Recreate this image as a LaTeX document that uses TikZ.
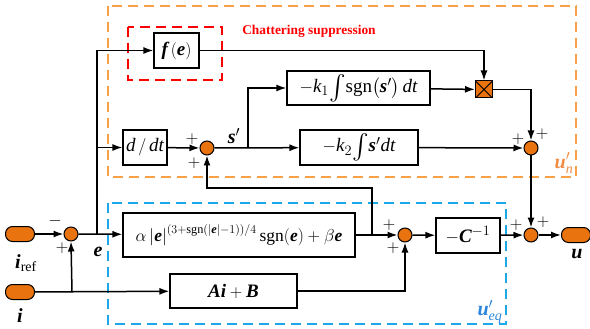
\documentclass[tikz,border=0pt]{standalone}
\usepackage{amsmath}
\usepackage{fontspec}
\setmainfont{Liberation Serif}
\usetikzlibrary{arrows.meta,calc}
\definecolor{sorange}{HTML}{E8730F}
\definecolor{boxorange}{HTML}{F7A048}
\definecolor{boxblue}{HTML}{1BA8EA}
\definecolor{lblblue}{HTML}{2A86DA}
\definecolor{lblorange}{HTML}{F28C44}
\newcommand{\vb}[1]{\text{\bfseries\itshape #1}}
\newcommand{\vi}[1]{\text{\itshape #1}}
\newcommand{\vr}[1]{\text{#1}}
\newcommand{\bigintg}{\mathop{\vcenter{\hbox{\fontsize{26}{26}\selectfont$\int$}}}}
\begin{document}
\begin{tikzpicture}[x=1pt,y=-1pt,
  blk/.style={draw,line width=1.2pt,fill=white,inner sep=0pt,font=\fontsize{19}{21}\selectfont},
  sumc/.style={circle,draw,fill=sorange,minimum size=14pt,inner sep=0pt,line width=1pt},
  term/.style={rounded corners=7pt,draw,fill=sorange,minimum width=29pt,minimum height=15pt,inner sep=0pt,line width=1pt},
  ar/.style={-{Latex[length=10pt,width=7pt]},line width=1.5pt},
  sg/.style={font=\fontsize{17}{17}\selectfont,inner sep=0pt},
  lbl/.style={font=\fontsize{20}{22}\selectfont,inner sep=0pt},
  dsh/.style={line width=1.8pt,dash pattern=on 10pt off 6pt}]
\useasboundingbox (0,0) rectangle (590,329);
% dashed frames
\draw[dsh,boxorange] (108,6) rectangle (576,177);
\draw[dsh,boxblue] (108,203) rectangle (506,324);
\draw[dsh,red] (128,27) rectangle (222,80);
\node[text=red,font=\fontsize{13.4}{15}\bfseries\selectfont,inner sep=0pt] (chat) at (309,31) {Chattering suppression};
\node[lbl,text=lblorange] (un) at (564,163) {$\vb{u}'_{\vi{n}}$};
\node[lbl,text=lblblue] (ueq) at (490,312) {$\vb{u}'_{\vi{eq}}$};
% terminals
\node[term] (iref) at (20,234) {};
\node[term] (iin) at (20,292) {};
\node[term] (uout) at (576,235) {};
\node[lbl] (irefl) at (26,263) {$\vb{i}_{\vr{ref}}$};
\node[lbl] (iinl) at (20,316) {$\vb{i}$};
\node[lbl] (uoutl) at (577,254) {$\vb{u}$};
% sums
\node[sumc] (s1) at (71,234) {};
\node[sumc] (s2) at (405,235) {};
\node[sumc] (s3) at (531,235) {};
\node[sumc] (s4) at (207,148) {};
\node[sumc] (s5) at (531,148) {};
% blocks
\node[blk,minimum width=232pt,minimum height=44pt,font=\fontsize{17.5}{19}\selectfont] (alpha) at (239,235)
  {$\alpha\left|\vb{e}\right|^{\left(3+\vr{sgn}\left(\left|\vb{e}\right|-1\right)\right)/4}\vr{sgn}\!\left(\vb{e}\right)+\beta\vb{e}$};
\node[blk,minimum width=64pt,minimum height=35pt] (cinv) at (468,235.5) {$-\vb{C}^{-1}$};
\node[blk,minimum width=127pt,minimum height=34pt] (aib) at (233.5,291) {$\vb{Ai}+\vb{B}$};
\node[blk,minimum width=44pt,minimum height=35pt] (ddt) at (145,147.5) {$\vi{d}\,/\,\vi{dt}$};
\node[blk,minimum width=143pt,minimum height=34pt] (k1) at (358.5,88) {$-\vi{k}_1\!\bigintg\!\vr{sgn}\!\left(\vb{s}'\right)\vi{dt}$};
\node[blk,minimum width=118pt,minimum height=35pt] (k2) at (359,147.5) {$-\vi{k}_2\!\bigintg\!\vb{s}'\vi{dt}$};
\node[blk,minimum width=45pt,minimum height=35pt] (fe) at (176.5,50.5) {$\vb{f}\left(\vb{e}\right)$};
\node[draw,fill=sorange,minimum size=17pt,inner sep=0pt,line width=1pt,
  path picture={\draw[line width=1pt] (path picture bounding box.north west)--(path picture bounding box.south east)
  (path picture bounding box.north east)--(path picture bounding box.south west);}] (mult) at (484,89.5) {};
% labels
\node[lbl] (el) at (98,252) {$\vb{e}$};
\node[lbl] (sl) at (234,136) {$\vb{s}'$};
% signs
\node[sg] at (55,221) {$-$};
\node[sg] at (62,248) {$+$};
\node[sg] at (192,139) {$+$};
\node[sg] at (194,163) {$+$};
\node[sg] at (518,139) {$+$};
\node[sg] at (542,134) {$+$};
\node[sg] at (389,225) {$+$};
\node[sg] at (393,248) {$+$};
\node[sg] at (516,225) {$+$};
\node[sg] at (543,222) {$+$};
% coordinates
\coordinate (ej) at (97,234);
\coordinate (sj) at (248,148);
\coordinate (tap) at (372,235);
\coordinate (fb) at (372,188);
\coordinate (ij) at (72,292);
% connectors
\draw[ar] (iref) -- (s1);
\draw[ar] (iin) -- (aib);
\draw[ar] (ij) -- (s1.south);
\draw[ar] (s1) -- (alpha);
\draw[ar] (ej) |- (fe);
\draw[ar] (ej |- ddt) -- (ddt);
\draw[ar] (ddt) -- (s4);
\draw[ar] (s4) -- (k2);
\draw[ar] (sj) |- (k1);
\draw[ar] (fe) -| (mult);
\draw[ar] (k1) -- (mult);
\draw[ar] (mult) -| (s5);
\draw[ar] (k2) -- (s5);
\draw[ar] (s5) -- (s3);
\draw[ar] (alpha) -- (s2);
\draw[ar] (tap) -- (fb) -| (s4);
\draw[ar] (aib) -| (s2);
\draw[ar] (s2) -- (cinv);
\draw[ar] (cinv) -- (s3);
\draw[ar] (s3) -- (uout);
\end{tikzpicture}
\end{document}
